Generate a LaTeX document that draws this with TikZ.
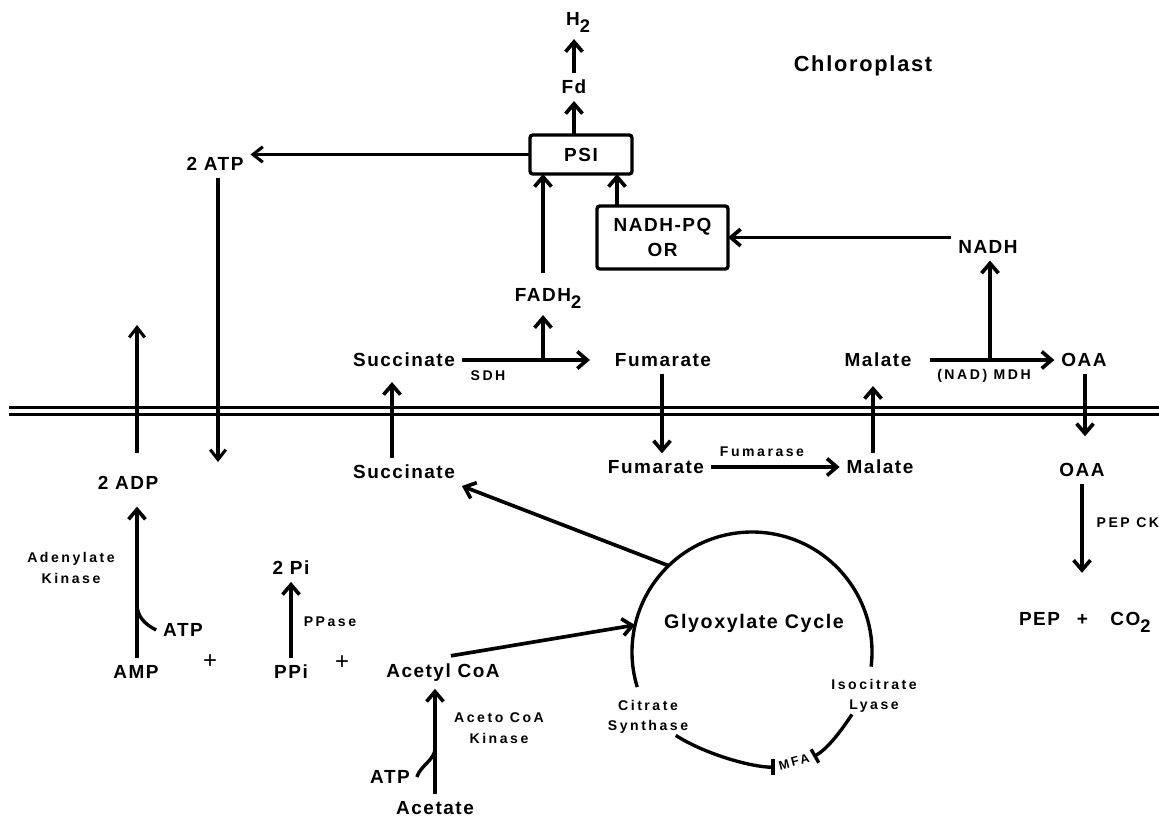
\documentclass[tikz,border=0pt]{standalone}
\usepackage{fontspec}
\setmainfont{Liberation Sans}[LetterSpace=8]
\newfontfamily\enzfont{Liberation Sans}[LetterSpace=18]
\usetikzlibrary{arrows.meta}

\begin{document}
\begin{tikzpicture}[
		met/.style={font=\bfseries\fontsize{13.5}{18}\selectfont, inner sep=2pt, outer sep=3pt, align=center},
		enz/.style={font=\enzfont\bfseries\fontsize{10}{14.5}\selectfont, inner sep=1pt, align=center},
		enzbox/.style={met, draw, line width=2.4pt, rounded corners=2pt, outer sep=0pt},
		flow/.style={line width=2.6pt, -{Straight Barb[length=7pt,width=12pt]}},
		thinflow/.style={line width=2.2pt, -{Straight Barb[length=7pt,width=11pt]}},
		cosub/.style={line width=2.4pt},
		inhib/.style={line width=2.4pt, -{Bar[width=11pt]}},
		membrane/.style={line width=2pt}
	]
		\fill[white] (0,0) rectangle (28.975,-20.425);
		\useasboundingbox (0,0) rectangle (28.975,-20.425);
		
		% Define chloroplast part
		\node[met, font=\bfseries\fontsize{15.5}{17}\selectfont] (Chloro) at (21.575,-1.65) {Chloroplast};
		\node[met] (H2) at (14.45,-0.55) {H\raisebox{-5pt}{\fontsize{13}{13}\selectfont 2}};
		\node[met] (Fd) at (14.35,-2.175) {Fd};
		\node[enzbox, minimum width=2.55cm, minimum height=0.975cm] (PSI) at (14.525,-3.8625) {PSI};
		\node[met] (ATPtop) at (5.375,-4.1) {2 ATP};
		\node[met] (FADH) at (13.7,-7.45) {FADH\raisebox{-5pt}{\fontsize{13}{13}\selectfont 2}};
		\node[enzbox, minimum width=3.275cm, minimum height=1.575cm] (NADHPQ) at (16.5625,-5.9375) {NADH-PQ\\OR};
		\node[met] (NADH) at (24.7,-6.175) {NADH};
		\draw[flow] (Fd.north) -- (Fd.north |- H2.south);
		\draw[flow] (PSI.north -| Fd) -- (Fd.south);
		\draw[thinflow] (PSI.west) -- (PSI.west -| ATPtop.east);
		\draw[flow, shorten <=0.2cm] (FADH.north -| 13.575,0) -- (PSI.south -| 13.575,0);
		\draw[flow] ([xshift=0.5cm]NADHPQ.north west) -- ([xshift=0.5cm]NADHPQ.north west |- PSI.south);
		\draw[flow] (NADH.west |- NADHPQ.east) -- (NADHPQ.east);
		
		% Define upper row
		\node[met] (SuccUp) at (10.1,-9.0) {Succinate};
		\node[met] (FumUp) at (16.575,-9.0) {Fumarate};
		\node[met] (MalUp) at (21.95,-9.0) {Malate};
		\node[met] (OAAUp) at (27.1,-9.0) {OAA};
		\node[enz] (SDH) at (12.2,-9.4) {SDH};
		\node[enz] (MDH) at (24.6,-9.4) {(NAD) MDH};
		\coordinate (SDHfork) at (13.575,-9.0);
		\coordinate (MDHfork) at (24.75,-9.0);
		\draw[flow, shorten >=0.45cm] (SuccUp) -- (FumUp);
		\draw[flow] (SDHfork) -- (SDHfork |- FADH.south);
		\draw[flow, shorten <=0.3cm] (MalUp) -- (OAAUp);
		\draw[flow] (MDHfork) -- (MDHfork |- NADH.south);
		
		% Define membrane
		\draw[membrane] (0.225,-10.18) -- (28.975,-10.18);
		\draw[membrane] (0.225,-10.37) -- (28.975,-10.37);
		\coordinate (ADPout) at (3.425,-8.125);
		\coordinate (ATPin) at (5.45,-11.55);
		\coordinate (SuccX) at (9.8,-10.27);
		\coordinate (FumX) at (16.55,-10.27);
		\coordinate (MalX) at (21.825,-10.27);
		\coordinate (OAAX) at (27.125,-10.27);
		
		% Define lower row
		\node[met] (SuccDn) at (10.1,-11.8) {Succinate};
		\node[met] (FumDn) at (16.4,-11.675) {Fumarate};
		\node[met] (MalDn) at (22.0,-11.675) {Malate};
		\node[met] (OAADn) at (27.05,-11.75) {OAA};
		\node[enz] (Fumarase) at (19.05,-11.3) {Fumarase};
		\node[met] (ADP) at (3.2,-12.075) {2 ADP};
		\draw[thinflow] (ATPtop.south -| ATPin) -- (ATPin);
		\draw[thinflow, shorten <=0.4cm] (ADP.north -| ADPout) -- (ADPout);
		\draw[flow, shorten >=0.2cm] (SuccDn.north -| SuccX) -- (SuccUp.south -| SuccX);
		\draw[flow] (FumUp.south -| FumX) -- (FumDn.north -| FumX);
		\draw[flow, shorten >=0.3cm] (MalDn.north -| MalX) -- (MalUp.south -| MalX);
		\draw[flow, shorten >=0.5cm] (OAAUp.south -| OAAX) -- (OAADn.north -| OAAX);
		\draw[flow] (FumDn) -- (MalDn);
		
		% Define cytosol reactions
		\node[enz] (AdK) at (1.775,-14.2) {Adenylate\\Kinase};
		\node[met] (ATPa) at (4.575,-15.75) {ATP};
		\node[met] (AMP) at (3.4,-16.8) {AMP};
		\node[met, font=\fontsize{17}{17}\selectfont] (Plus1) at (5.25,-16.55) {+};
		\node[met] (Pi) at (7.275,-14.2) {2 Pi};
		\node[enz] (PPase) at (8.25,-15.55) {PPase};
		\node[met] (PPi) at (7.275,-16.8) {PPi};
		\node[met, font=\fontsize{17}{17}\selectfont] (Plus2) at (8.55,-16.575) {+};
		\node[met] (AcCoA) at (11.075,-16.825) {Acetyl CoA};
		\node[enz] (AcK) at (12.475,-18.2) {Aceto CoA\\Kinase};
		\node[met] (ATPb) at (9.75,-19.425) {ATP};
		\node[met] (Acetate) at (10.875,-20.2) {Acetate};
		\coordinate (AMPjoin) at (3.425,-15.1);
		\coordinate (AcJoin) at (10.875,-18.7);
		\draw[flow, shorten >=0.25cm] (AMP.north -| AMPjoin) -- (AMPjoin |- ADP.south);
		\draw[cosub] (ATPa.west) .. controls +(-0.3,0.15) and +(0,-0.3) .. (AMPjoin);
		\draw[flow] (PPi.north) -- (PPi.north |- Pi.south);
		\draw[flow] (Acetate.north) -- (Acetate.north |- AcCoA.south);
		\draw[cosub] (ATPb.east) .. controls +(0.1,0.3) and +(0,-0.3) .. (AcJoin);
		
		% Define glyoxylate cycle
		\node[circle, minimum size=6cm, inner sep=0pt, outer sep=0pt] (Cycle) at (18.8,-16.3) {};
		\node[met, font=\bfseries\fontsize{14}{15}\selectfont] (GlyText) at (18.85,-15.575) {Glyoxylate Cycle};
		\node[enz] (CitS) at (16.2,-17.925) {Citrate\\Synthase};
		\node[enz] (IcL) at (21.85,-17.4) {Isocitrate\\Lyase};
		\node[enz, rotate=15, inner sep=3pt, font=\enzfont\bfseries\fontsize{9}{10}\selectfont] (MFA) at (19.85,-19.05) {MFA};
		\draw[cosub] (Cycle.-7) arc[start angle=-7, end angle=197, radius=3cm];
		\draw[flow] (Cycle.134) -- (SuccDn.south east);
		\draw[flow, shorten <=0.2cm] (AcCoA.north) -- (Cycle.167);
		\draw[inhib] ([xshift=-0.35cm]CitS.south east) .. controls +(0.7,-0.45) and +(-0.6,0) .. (MFA.west);
		\draw[inhib] ([xshift=-0.55cm]IcL.south) .. controls +(-0.3,-0.45) and +(0.35,0.2) .. (MFA.east);
		
		% Define PEP CK
		\node[enz, anchor=west] (PEPCK) at (27.375,-13.075) {PEP CK};
		\node[met, anchor=west] (PEP) at (25.3,-15.55) {PEP\hspace{12pt}+\hspace{16pt}CO\raisebox{-5pt}{\fontsize{13}{13}\selectfont 2}};
		\draw[flow, shorten >=0.8cm] (OAADn.south) -- (OAADn.south |- PEP.north);
		
	\end{tikzpicture}
\end{document}
